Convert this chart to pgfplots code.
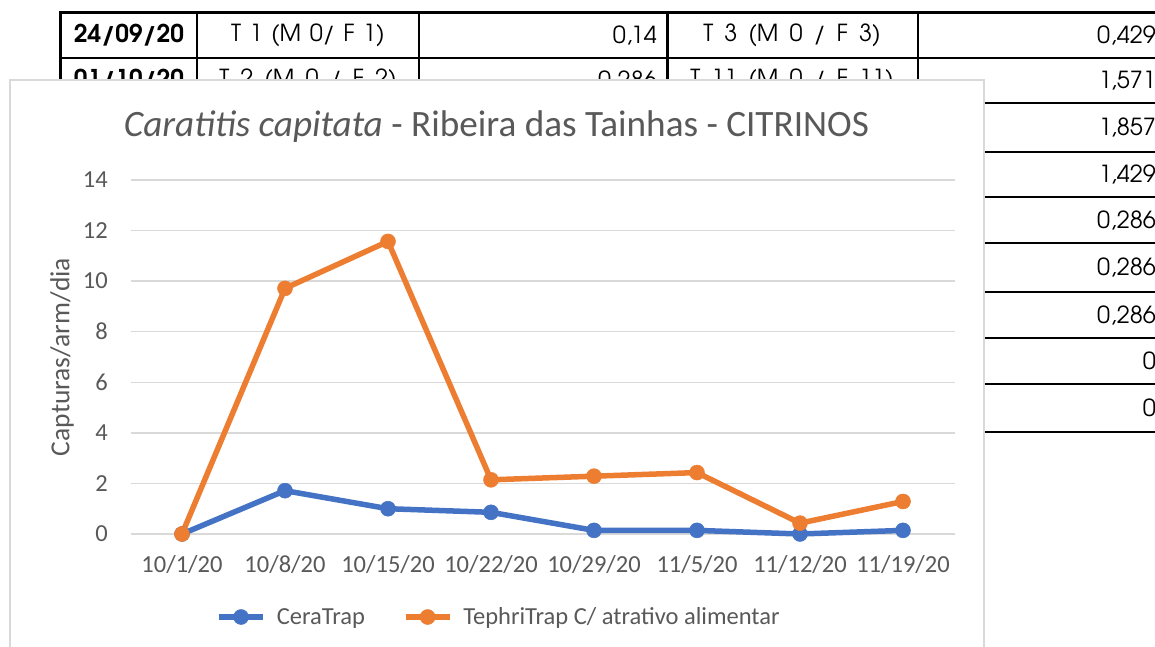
\documentclass[border=0pt]{standalone}
\usepackage{fontspec}
\setmainfont{Carlito}
\newfontfamily\gothic{TeX Gyre Adventor}
\newfontfamily\gothicw[WordSpace=1.3]{TeX Gyre Adventor}
\usepackage{pgfplots}
\pgfplotsset{compat=1.18}
\definecolor{cblue}{HTML}{4472C4}
\definecolor{corange}{HTML}{ED7D31}
\definecolor{tgray}{HTML}{595959}
\definecolor{ggray}{HTML}{D9D9D9}

\begin{document}
\begin{tikzpicture}[x=1bp,y=1bp]
\path[use as bounding box] (0,0) rectangle (1155,647);
% ---- background table ----
\begin{scope}[every node/.style={inner sep=0pt}, font=\gothic\fontsize{23.5bp}{28bp}\selectfont]
\draw[line width=2.5bp] (58.5,634.7) -- (1160,634.7);
\foreach \yy in {589.3,544,495,450,404,355,309,263,215}
  \draw[line width=1.8bp] (60,\yy) -- (1160,\yy);
\draw[line width=3bp] (60,636) -- (60,215);
\draw[line width=1.8bp] (197,634.7) -- (197,215);
\draw[line width=1.8bp] (419,634.7) -- (419,215);
\draw[line width=3bp] (667,634.7) -- (667,215);
\draw[line width=1.8bp] (918,634.7) -- (918,215);
% row 1
\node[font=\gothic\bfseries\fontsize{24.5bp}{28bp}\selectfont] at (129,612) {24/09/20};
\node[font=\gothicw\fontsize{23.5bp}{28bp}\selectfont] at (308,612) {T 1 (M 0/ F 1)};
\node[anchor=east] at (657,612) {0,14};
\node[font=\gothicw\fontsize{23.5bp}{28bp}\selectfont] at (792,612) {T 3 (M 0 / F 3)};
\node[anchor=east] at (1156,612) {0,429};
% row 2
\node[font=\gothic\bfseries\fontsize{24.5bp}{28bp}\selectfont] at (129,566.5) {01/10/20};
\node[font=\gothicw\fontsize{23.5bp}{28bp}\selectfont] at (308,566.5) {T 2 (M 0 / F 2)};
\node[anchor=east] at (657,566.5) {0,286};
\node[font=\gothicw\fontsize{23.5bp}{28bp}\selectfont] at (792,566.5) {T 11 (M 0 / F 11)};
\node[anchor=east] at (1156,566.5) {1,571};
% right column, further rows
\node[anchor=east] at (1156,519.5) {1,857};
\node[anchor=east] at (1156,472.5) {1,429};
\node[anchor=east] at (1156,427) {0,286};
\node[anchor=east] at (1156,379.5) {0,286};
\node[anchor=east] at (1156,332) {0,286};
\node[anchor=east] at (1156,286) {0};
\node[anchor=east] at (1156,239) {0};
\end{scope}
% ---- chart area ----
\draw[ggray, line width=1.3bp, fill=white] (10,-5) rectangle (984,567);
\node[anchor=base, text=tgray, font=\fontsize{37.2bp}{44bp}\selectfont, inner sep=0pt] at (496.5,510)
  {\textit{Caratitis capitata} - Ribeira das Tainhas - CITRINOS};
\begin{scope}[shift={(130.5,113)}]
\begin{axis}[
  at={(0,0)}, anchor=south west,
  scale only axis, width=824bp, height=354bp,
  xmin=-0.5, xmax=7.5, ymin=0, ymax=14,
  ytick={0,2,...,14}, xtick={0,...,7},
  xticklabels={10/1/20,10/8/20,10/15/20,10/22/20,10/29/20,11/5/20,11/12/20,11/19/20},
  axis line style={draw=none}, major tick length=0pt,
  ymajorgrids, grid style={ggray, line width=1.3bp},
  tick label style={text=tgray, font=\fontsize{24.5bp}{29bp}\selectfont, inner sep=0pt},
  yticklabel style={anchor=east, xshift=-22.5bp},
  xticklabel style={anchor=base, yshift=-39bp},
  /pgf/number format/assume math mode=true,
  ylabel={Capturas/arm/dia},
  ylabel style={at={(axis description cs:-0.0831,0.5)}, anchor=center, text=tgray,
    font=\fontsize{27.5bp}{32bp}\selectfont, inner sep=0pt},
  clip=false,
  legend columns=2,
  legend style={draw=none, fill=none, at={(axis description cs:0.4472,-0.2345)}, anchor=center,
    font=\fontsize{24.5bp}{29bp}\selectfont, text=tgray,
    /tikz/every even column/.append style={column sep=36bp}},
  legend image code/.code={\draw[#1, mark repeat=2, mark phase=2] plot coordinates {(0bp,0bp) (22bp,0bp) (44bp,0bp)}; \path (53bp,0bp);},
]
\addplot[cblue, line width=5.5bp, mark=*, mark size=7.5bp, mark options={fill=cblue, draw=cblue, line width=0.5bp}]
  coordinates {(0,0) (1,1.714) (2,1.0) (3,0.857) (4,0.143) (5,0.143) (6,0) (7,0.143)};
\addlegendentry{CeraTrap}
\addplot[corange, line width=5.5bp, mark=*, mark size=7.5bp, mark options={fill=corange, draw=corange, line width=0.5bp}]
  coordinates {(0,0) (1,9.714) (2,11.571) (3,2.143) (4,2.286) (5,2.429) (6,0.429) (7,1.286)};
\addlegendentry{TephriTrap C/ atrativo alimentar}
\end{axis}
\end{scope}
\end{tikzpicture}
\end{document}
